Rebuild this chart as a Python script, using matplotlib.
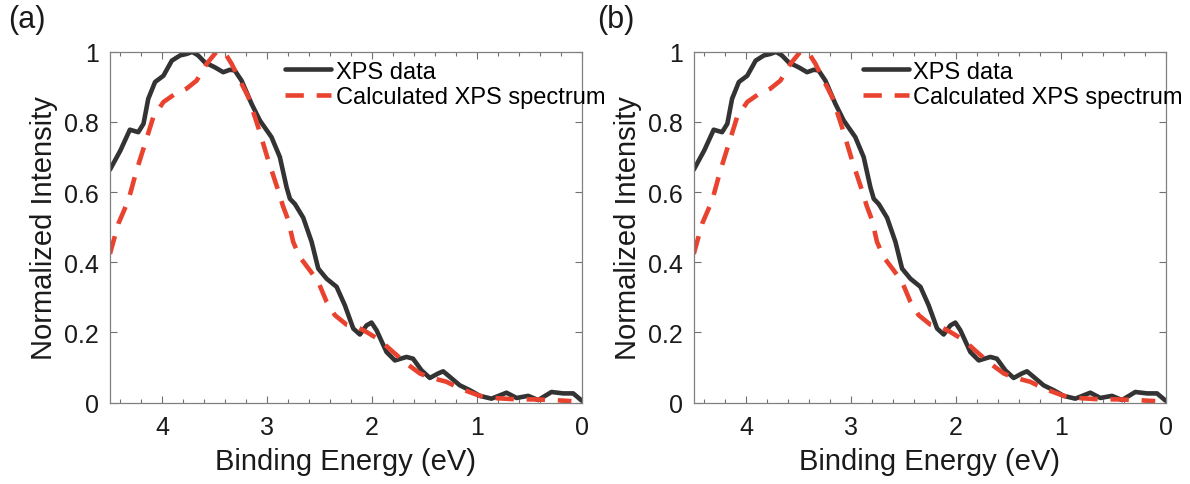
import matplotlib
matplotlib.use("Agg")
import matplotlib.pyplot as plt
from matplotlib.ticker import MultipleLocator, FixedLocator

plt.rcParams['font.family'] = ['Liberation Sans', 'DejaVu Sans']

# XPS data (black)
xps_energy = [4.50, 4.40, 4.31, 4.23, 4.18, 4.135, 4.07, 3.99, 3.91, 3.83, 3.77,
              3.715, 3.66, 3.595, 3.50, 3.42, 3.356, 3.31, 3.245, 3.15, 3.07,
              2.96, 2.88, 2.816, 2.784, 2.736, 2.657, 2.577, 2.514, 2.434, 2.339,
              2.26, 2.18, 2.117, 2.053, 2.006, 1.958, 1.863, 1.783, 1.672, 1.61,
              1.53, 1.45, 1.37, 1.323, 1.259, 1.164, 1.068, 0.973, 0.862, 0.719,
              0.623, 0.512, 0.417, 0.29, 0.178, 0.083, 0.0]
xps_intensity = [0.664, 0.719, 0.778, 0.771, 0.795, 0.866, 0.914, 0.932, 0.975, 0.99, 0.994,
                 1.0, 0.99, 0.97, 0.956, 0.942, 0.949, 0.947, 0.918, 0.852, 0.804,
                 0.757, 0.70, 0.614, 0.581, 0.566, 0.527, 0.458, 0.382, 0.353, 0.33,
                 0.277, 0.211, 0.194, 0.22, 0.228, 0.206, 0.144, 0.12, 0.13, 0.125,
                 0.092, 0.07, 0.083, 0.089, 0.073, 0.049, 0.035, 0.019, 0.011, 0.028,
                 0.013, 0.019, 0.007, 0.03, 0.026, 0.026, 0.005]

# calculated spectrum (red dashed)
calc_energy = [4.50, 4.42, 4.325, 4.246, 4.166, 4.087, 3.99, 3.88, 3.77, 3.674,
               3.578, 3.49, 3.44, 3.39, 3.34, 3.277, 3.18, 3.086, 2.99, 2.896,
               2.85, 2.80, 2.753, 2.69, 2.594, 2.514, 2.434, 2.355, 2.244, 2.148,
               2.053, 1.926, 1.80, 1.672, 1.545, 1.466, 1.29, 1.164, 0.973, 0.847,
               0.623, 0.465, 0.274, 0.10]
calc_intensity = [0.424, 0.51, 0.576, 0.662, 0.738, 0.814, 0.857, 0.88, 0.895, 0.918,
                  0.966, 0.998, 1.005, 0.99, 0.966, 0.928, 0.871, 0.785, 0.69, 0.605,
                  0.56, 0.52, 0.458, 0.415, 0.377, 0.344, 0.287, 0.249, 0.222, 0.216,
                  0.201, 0.178, 0.144, 0.111, 0.083, 0.073, 0.059, 0.04, 0.019, 0.013,
                  0.009, 0.009, 0.007, 0.004]

panel_labels = ['(a)', '(b)']
x_ticks = [4, 3, 2, 1, 0]
y_ticks = [0, 0.2, 0.4, 0.6, 0.8, 1]
y_ticklabels = ['0', '0.2', '0.4', '0.6', '0.8', '1']

black = '#333333'
red = '#e9432f'

fig = plt.figure(figsize=(11.9, 4.85), dpi=100)
lefts = [0.0924, 0.583]
label_x = [0.007, 0.502]
legend_x = [0.371, 0.358]

for k in range(2):
    ax = fig.add_axes([lefts[k], 0.168, 0.3966, 0.723])
    ax.plot(xps_energy, xps_intensity, color=black, lw=3.3, label='XPS data',
            solid_joinstyle='round', solid_capstyle='round')
    ax.plot(calc_energy, calc_intensity, color=red, lw=3.3, dashes=(4.0, 2.8),
            dash_joinstyle='round', label='Calculated XPS spectrum')
    ax.set_xlim(4.5, 0)
    ax.set_ylim(0, 1)
    ax.xaxis.set_major_locator(FixedLocator(x_ticks))
    ax.set_xticklabels([str(t) for t in x_ticks])
    ax.xaxis.set_minor_locator(MultipleLocator(0.2))
    ax.set_yticks(y_ticks)
    ax.set_yticklabels(y_ticklabels)
    ax.tick_params(which='both', direction='in', top=True, right=True,
                   color='#707070', labelcolor='#1a1a1a', labelsize=18)
    ax.tick_params(which='major', length=5, width=0.8)
    ax.tick_params(which='minor', length=3, width=0.8)
    ax.tick_params(axis='x', pad=9)
    ax.tick_params(axis='y', pad=8)
    for s in ax.spines.values():
        s.set_color('#808080')
        s.set_linewidth(0.9)
    ax.set_xlabel('Binding Energy (eV)', fontsize=21, color='#1a1a1a', labelpad=6)
    ax.set_ylabel('Normalized Intensity', fontsize=21, color='#1a1a1a', labelpad=4)
    ax.legend(loc='upper left', bbox_to_anchor=(legend_x[k], 0.975), frameon=False,
              fontsize=17, borderpad=0, borderaxespad=0, handlelength=1.95,
              handletextpad=0.2, labelspacing=0.15)
    fig.text(label_x[k], 0.958, panel_labels[k], fontsize=22, va='center', ha='left',
             color='#1a1a1a')

fig.savefig('out.png', dpi=100)
